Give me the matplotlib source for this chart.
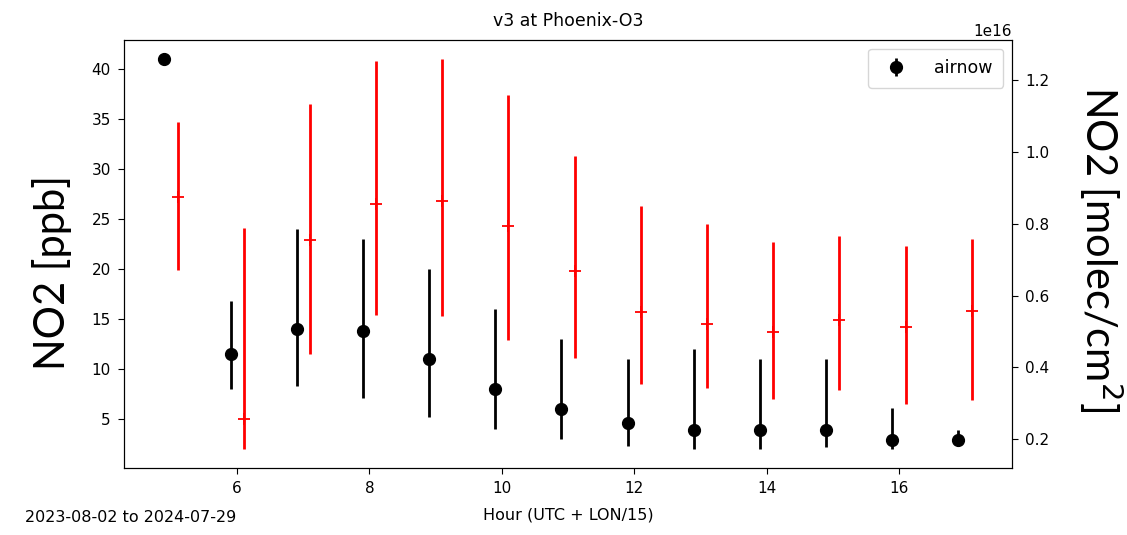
import numpy as np
import matplotlib.pyplot as plt

# hours of day
hours = np.arange(5, 18)

# airnow surface NO2 [ppb]: centre, lower and upper whisker
airnow_mid = [41.0, 11.45, 13.95, 13.8, 11.0, 7.95, 6.0, 4.6, 3.9, 3.9, 3.9, 2.9, 2.9]
airnow_lo = [41.0, 8.0, 8.3, 7.05, 5.2, 4.0, 3.0, 2.3, 2.0, 2.0, 2.15, 2.0, 2.5]
airnow_hi = [41.0, 16.75, 24.0, 23.0, 20.0, 16.0, 13.0, 11.0, 12.0, 11.0, 11.0, 6.05, 3.9]

# column NO2 [1e16 molec/cm2]
col_mid = [0.876, 0.256, 0.754, 0.854, 0.865, 0.795, 0.668, 0.555, 0.521, 0.500, 0.532, 0.512, 0.558]
col_lo = [0.672, 0.174, 0.437, 0.546, 0.542, 0.476, 0.425, 0.355, 0.344, 0.313, 0.338, 0.298, 0.310]
col_hi = [1.083, 0.788, 1.134, 1.254, 1.258, 1.160, 0.990, 0.849, 0.800, 0.750, 0.767, 0.738, 0.757]

airnow_mid = np.array(airnow_mid)
col_mid = np.array(col_mid) * 1e16
col_lo = np.array(col_lo) * 1e16
col_hi = np.array(col_hi) * 1e16

fig = plt.figure(figsize=(11.27, 5.35), dpi=100)
ax = fig.add_axes([0.110, 0.1252, 0.788, 0.800])
ax2 = ax.twinx()

ax.errorbar(hours - 0.1, airnow_mid,
            yerr=[airnow_mid - np.array(airnow_lo), np.array(airnow_hi) - airnow_mid],
            fmt='o', color='k', ms=8.5, elinewidth=2, label='airnow')
ax2.errorbar(hours + 0.1, col_mid, yerr=[col_mid - col_lo, col_hi - col_mid],
             fmt='+', color='r', ms=8.5, elinewidth=2, mew=1.3)

ax.set_title('v3 at Phoenix-O3', fontsize=12.5, pad=10)
ax.set_xlabel('Hour (UTC + LON/15)', fontsize=11.5, labelpad=8)
ax.tick_params(labelsize=11, length=4.5, pad=5)
ax2.tick_params(labelsize=11, length=4.5, pad=5)
ax2.yaxis.get_offset_text().set_fontsize(11)
ax.legend(loc='upper right', fontsize=12.5, borderpad=0.6, handletextpad=1.2)

fig.text(0.022, 0.032, '2023-08-02 to 2024-07-29', fontsize=11.5, va='center')
fig.text(0.046, 0.49, 'NO2 [ppb]', rotation=90, fontsize=30, family='Lato',
         ha='center', va='center')
fig.text(0.977, 0.535, 'NO2 [molec/cm$^2$]', rotation=270, fontsize=30, family='Lato',
         ha='center', va='center')

fig.savefig('out.png', dpi=100)
